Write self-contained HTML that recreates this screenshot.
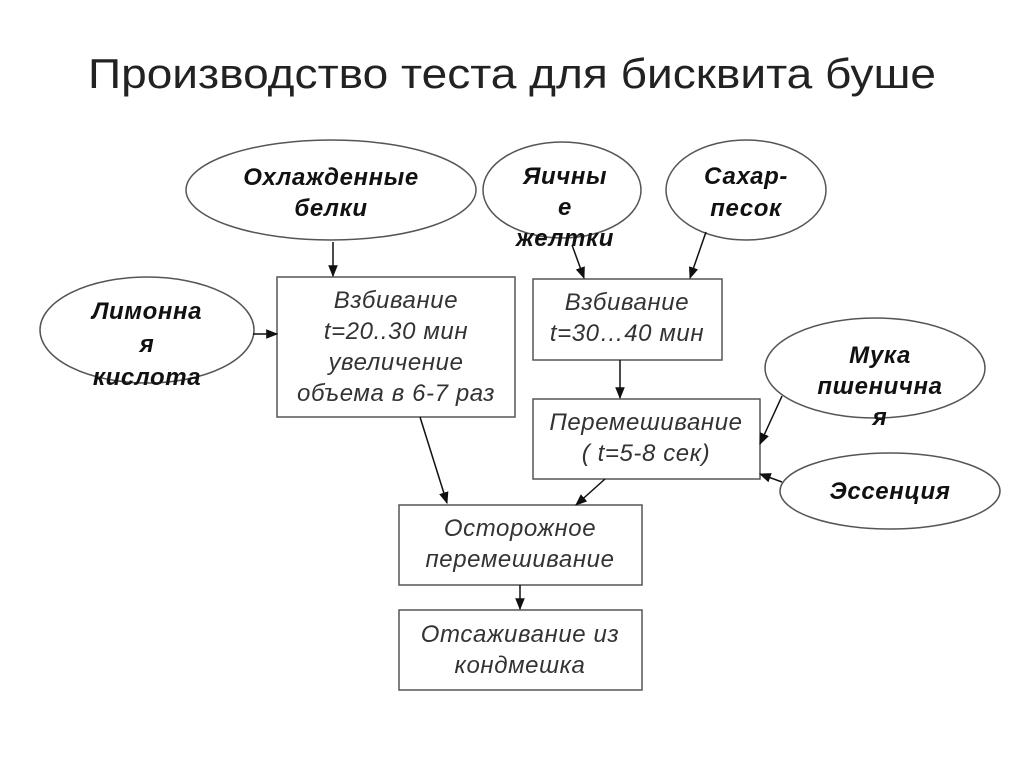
<!DOCTYPE html>
<html><head><meta charset="utf-8"><style>
html,body{margin:0;padding:0;background:#fff;}
svg{display:block;}
.e{font-family:"Liberation Sans",sans-serif;font-weight:bold;font-style:italic;font-size:24px;letter-spacing:0.6px;fill:#111;text-anchor:middle;}
.b{font-family:"Liberation Sans",sans-serif;font-style:italic;font-size:24px;letter-spacing:0.6px;fill:#333;text-anchor:middle;}
</style></head><body>
<svg width="1024" height="767" viewBox="0 0 1024 767" xmlns="http://www.w3.org/2000/svg">
<defs><marker id="a" viewBox="0 0 10 10" refX="9" refY="5" markerWidth="8" markerHeight="8" orient="auto"><path d="M0,1 L10,5 L0,9 z" fill="#111"/></marker></defs>
<text x="512" y="88" font-family="Liberation Sans, sans-serif" font-size="42" fill="#222" text-anchor="middle" textLength="848" lengthAdjust="spacingAndGlyphs">Производство теста для бисквита буше</text>
<g fill="#fff" stroke="#555" stroke-width="1.5">
<ellipse cx="331" cy="190" rx="145" ry="50"/>
<ellipse cx="562" cy="190" rx="79" ry="48"/>
<ellipse cx="746" cy="190" rx="80" ry="50"/>
<ellipse cx="147" cy="330" rx="107" ry="53"/>
<ellipse cx="875" cy="368" rx="110" ry="50"/>
<ellipse cx="890" cy="491" rx="110" ry="38"/>
<rect x="277" y="277" width="238" height="140"/>
<rect x="533" y="279" width="189" height="81"/>
<rect x="533" y="399" width="227" height="80"/>
<rect x="399" y="505" width="243" height="80"/>
<rect x="399" y="610" width="243" height="80"/>
</g>
<g class="e">
<text x="331" y="185">Охлажденные</text><text x="331" y="216">белки</text>
<text x="565" y="184">Яичны</text><text x="565" y="215">е</text><text x="565" y="246">желтки</text>
<text x="746" y="184">Сахар-</text><text x="746" y="216">песок</text>
<text x="147" y="319">Лимонна</text><text x="147" y="352">я</text><text x="147" y="385">кислота</text>
<text x="880" y="363">Мука</text><text x="880" y="394">пшенична</text><text x="880" y="425">я</text>
<text x="890" y="499">Эссенция</text>
</g>
<g class="b">
<text x="396" y="308">Взбивание</text><text x="396" y="339">t=20..30 мин</text><text x="396" y="370">увеличение</text><text x="396" y="401">объема в 6-7 раз</text>
<text x="627" y="310">Взбивание</text><text x="627" y="341">t=30…40 мин</text>
<text x="646" y="430">Перемешивание</text><text x="646" y="461">( t=5-8 сек)</text>
<text x="520" y="536">Осторожное</text><text x="520" y="567">перемешивание</text>
<text x="520" y="642">Отсаживание из</text><text x="520" y="673">кондмешка</text>
</g>
<g stroke="#111" stroke-width="1.5" marker-end="url(#a)">
<line x1="333" y1="242" x2="333" y2="276"/>
<line x1="253" y1="334" x2="277" y2="334"/>
<line x1="572" y1="245" x2="584" y2="278"/>
<line x1="706" y1="232" x2="690" y2="278"/>
<line x1="620" y1="360" x2="620" y2="398"/>
<line x1="782" y1="396" x2="760" y2="444"/>
<line x1="782" y1="482" x2="760" y2="474"/>
<line x1="420" y1="417" x2="447" y2="503"/>
<line x1="605" y1="479" x2="576" y2="505"/>
<line x1="520" y1="585" x2="520" y2="609"/>
</g>
</svg>
</body></html>
